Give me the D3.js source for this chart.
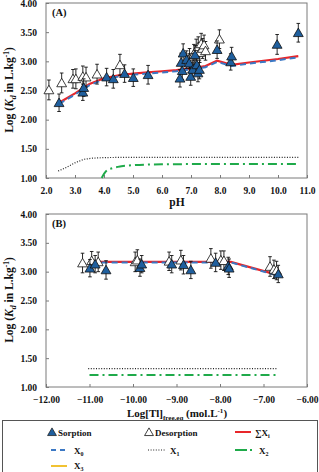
<!DOCTYPE html>
<html><head><meta charset="utf-8">
<script src="https://cdn.jsdelivr.net/npm/d3@7"></script>
<style>
html,body{margin:0;padding:0;background:#fff;}
svg{display:block;font-family:"Liberation Serif","Times New Roman",serif;font-weight:bold;}
</style></head>
<body><svg id="c" width="319" height="472"></svg>
<script>
// ---------- Panel A data (pH) ----------
const pHTicks = [2,3,4,5,6,7,8,9,10,11];
const logKdTicks = [1.0,1.5,2.0,2.5,3.0,3.5,4.0];
const sorpPH    = [2.45,3.27,3.30,4.09,4.32,4.71,5.01,5.52,6.62,6.66,6.70,6.73,6.85,6.94,6.99,7.06,7.14,7.20,7.24,7.29,7.90,8.37,8.40,9.97,10.70];
const sorpKdA   = [2.29,2.47,2.55,2.73,2.70,2.79,2.72,2.77,2.71,2.98,2.84,3.14,3.03,2.97,2.74,2.86,3.11,2.94,2.80,2.86,3.20,2.99,3.09,3.29,3.49];
const sorpErrA  = [0.15,0.14,0.15,0.15,0.16,0.15,0.15,0.16,0.15,0.16,0.15,0.16,0.15,0.16,0.15,0.16,0.16,0.15,0.15,0.16,0.15,0.14,0.15,0.17,0.16];
const desPH     = [2.10,2.54,2.93,3.03,3.27,3.38,3.76,4.55,6.95,7.10,7.18,7.25,7.30,7.35,7.40,7.45,7.50,7.98];
const desKdA    = [2.51,2.63,2.70,2.70,2.74,2.73,2.78,2.94,3.05,3.12,3.20,3.25,3.15,3.30,3.22,3.28,3.18,3.38];
const desErrA   = [0.17,0.17,0.16,0.17,0.18,0.17,0.17,0.18,0.17,0.17,0.18,0.17,0.17,0.18,0.17,0.17,0.16,0.16];
const modelPH   = [2.45,3.0,3.5,4.0,4.5,5.0,5.5,6.0,6.5,7.0,7.5,7.9,8.4,9.0,10.0,10.7];
const sumXA     = [2.29,2.45,2.61,2.71,2.76,2.79,2.81,2.83,2.85,2.88,2.92,3.01,2.94,2.98,3.04,3.09];
const x0A       = [2.27,2.43,2.59,2.69,2.74,2.77,2.79,2.81,2.83,2.86,2.90,2.99,2.92,2.96,3.02,3.07];
const x1PH      = [2.42,2.7,3.0,3.3,3.6,4.0,5.0,7.0,10.7];
const x1A       = [1.12,1.18,1.26,1.32,1.34,1.35,1.355,1.355,1.355];
const x2PH      = [3.92,4.0,4.1,4.3,4.6,5.0,6.0,8.0,10.7];
const x2A       = [1.0,1.07,1.13,1.17,1.20,1.22,1.235,1.24,1.24];

// ---------- Panel B data (Log[Tl]free,eq) ----------
const tlTicks   = [-12,-11,-10,-9,-8,-7,-6];
const sorpTl    = [-10.99,-10.87,-10.62,-9.84,-9.80,-9.11,-8.84,-8.67,-8.10,-7.81,-7.79,-6.66];
const sorpKdB   = [3.06,3.13,3.03,3.07,3.13,3.13,3.12,3.03,3.16,3.10,3.06,2.96];
const sorpErrB  = [0.15,0.15,0.16,0.15,0.15,0.15,0.16,0.15,0.16,0.15,0.16,0.15];
const desTl     = [-11.16,-10.95,-10.80,-9.95,-9.90,-9.17,-8.90,-8.21,-7.98,-7.91,-6.85,-6.76,-6.70];
const desKdB    = [3.15,3.19,3.17,3.17,3.20,3.18,3.20,3.23,3.20,3.19,3.09,3.04,3.02];
const desErrB   = [0.17,0.16,0.17,0.17,0.18,0.16,0.17,0.17,0.16,0.17,0.17,0.16,0.16];
const modelTl   = [-10.95,-9.0,-7.75,-6.66];
const sumXB     = [3.17,3.17,3.17,2.94];
const x0B       = [3.16,3.16,3.16,2.93];
const x1Tl      = [-11.03,-6.70];
const x1B       = [1.32,1.32];
const x2Tl      = [-11.0,-6.66];
const x2B       = [1.21,1.21];

const legendLabels = ["Sorption","Desorption","∑X","X","X","X","X"];

const C = {red:"#e8262a", blue:"#3b78c4", green:"#1faa4a", yellow:"#f1c232", tri:"#1f5f9e", frame:"#7a7a7a"};
const svg = d3.select("#c");

function panel(opt){
  const L=opt.left, R=opt.right, T=opt.top, B=opt.bottom;
  const x = d3.scaleLinear().domain(opt.xDomain).range([L,R]);
  const y = d3.scaleLinear().domain([1,4]).range([B,T]);
  const g = svg.append("g");
  const ya = g.append("g").attr("transform",`translate(${L},0)`)
    .call(d3.axisLeft(y).tickValues(logKdTicks).tickFormat(d3.format(".2f")).tickSizeInner(-3).tickSizeOuter(0).tickPadding(9));
  const xa = g.append("g").attr("transform",`translate(0,${B})`)
    .call(d3.axisBottom(x).tickValues(opt.xTicks).tickFormat(opt.xFmt).tickSizeInner(-3).tickSizeOuter(0).tickPadding(9));
  [ya,xa].forEach(a=>{
    a.select(".domain").remove();
    a.selectAll("line").attr("stroke",C.frame);
    a.selectAll("text").attr("font-family","Liberation Serif, serif").attr("font-weight","bold").attr("font-size",9.5).attr("fill","#111");
  });
  g.append("rect").attr("x",L).attr("y",T).attr("width",R-L).attr("height",B-T)
    .attr("fill","none").attr("stroke",C.frame).attr("stroke-width",1);
  g.append("text").attr("x",L+6).attr("y",T+13).attr("font-size",10.5).attr("fill","#111").text(opt.label);

  const line = (xs,ys)=>d3.line().x((d,i)=>x(xs[i])).y(d=>y(d))(ys);
  g.append("path").attr("d",line(opt.x1X,opt.x1Y)).attr("fill","none").attr("stroke","#222").attr("stroke-width",1.2).attr("stroke-dasharray","1,1.6");
  g.append("path").attr("d",d3.line().curve(d3.curveMonotoneX).x((d,i)=>x(opt.x2X[i])).y(d=>y(d))(opt.x2Y)).attr("fill","none").attr("stroke",C.green).attr("stroke-width",2).attr("stroke-dasharray","9,4,2,4");
  g.append("path").attr("d",line(opt.mX,opt.sum)).attr("fill","none").attr("stroke",C.red).attr("stroke-width",2.2);
  g.append("path").attr("d",line(opt.mX,opt.zero)).attr("fill","none").attr("stroke",C.blue).attr("stroke-width",2).attr("stroke-dasharray","6,4");

  const tri = d3.symbol().type(d3.symbolTriangle).size(42)();
  function points(xs,ys,es,fill){
    xs.forEach((xv,i)=>{
      const px=x(xv), t=y(ys[i]+es[i]), b=y(ys[i]-es[i]);
      const eg = g.append("g").attr("stroke","#111").attr("stroke-width",0.9);
      eg.append("line").attr("x1",px).attr("x2",px).attr("y1",t).attr("y2",b);
      eg.append("line").attr("x1",px-1.8).attr("x2",px+1.8).attr("y1",t).attr("y2",t);
      eg.append("line").attr("x1",px-1.8).attr("x2",px+1.8).attr("y1",b).attr("y2",b);
    });
    xs.forEach((xv,i)=>{
      g.append("path").attr("d",tri).attr("transform",`translate(${x(xv)},${y(ys[i])+1})`)
        .attr("fill",fill).attr("stroke","#111").attr("stroke-width",0.8);
    });
  }
  points(opt.dX,opt.dY,opt.dE,"#fff");
  points(opt.sX,opt.sY,opt.sE,C.tri);
  return g;
}

panel({left:46,right:307,top:3,bottom:178,xDomain:[2,11],xTicks:pHTicks,xFmt:d3.format(".1f"),label:"(A)",
  sX:sorpPH,sY:sorpKdA,sE:sorpErrA,dX:desPH,dY:desKdA,dE:desErrA,
  mX:modelPH,sum:sumXA,zero:x0A,x1X:x1PH,x1Y:x1A,x2X:x2PH,x2Y:x2A});
panel({left:46,right:307,top:214,bottom:387,xDomain:[-12,-6],xTicks:tlTicks,xFmt:d3.format(".2f"),label:"(B)",
  sX:sorpTl,sY:sorpKdB,sE:sorpErrB,dX:desTl,dY:desKdB,dE:desErrB,
  mX:modelTl,sum:sumXB,zero:x0B,x1X:x1Tl,x1Y:x1B,x2X:x2Tl,x2Y:x2B});

function yTitle(cy){
  const t = svg.append("text").attr("transform",`translate(13,${cy}) rotate(-90)`).attr("text-anchor","middle").attr("font-size",11.5).attr("fill","#111");
  t.append("tspan").text("Log (");
  t.append("tspan").attr("font-style","italic").text("K");
  t.append("tspan").attr("font-size",8).attr("dy",3).attr("font-style","italic").text("d");
  t.append("tspan").attr("dy",-3).text(" in L.kg");
  t.append("tspan").attr("font-size",7.5).attr("dy",-4).text("-1");
  t.append("tspan").attr("dy",4).text(")");
}
yTitle(90); yTitle(300);
svg.append("text").attr("x",177).attr("y",206).attr("text-anchor","middle").attr("font-size",11.5).attr("fill","#111").text("pH");
{
  const t = svg.append("text").attr("x",177).attr("y",417).attr("text-anchor","middle").attr("font-size",11).attr("fill","#111");
  t.append("tspan").text("Log[Tl]");
  t.append("tspan").attr("font-size",7).attr("dy",3).text("free,eq");
  t.append("tspan").attr("dy",-3).text(" (mol.L");
  t.append("tspan").attr("font-size",7).attr("dy",-4).text("-1");
  t.append("tspan").attr("dy",4).text(")");
}

const lg = svg.append("g");
lg.append("rect").attr("x",2.5).attr("y",420.5).attr("width",315).attr("height",60).attr("fill","#fff").attr("stroke","#555").attr("stroke-width",1);
const fs = 9;
function ltext(x,y,main,sub){
  const t = lg.append("text").attr("x",x).attr("y",y+3).attr("font-size",fs).attr("fill","#111");
  t.append("tspan").text(main);
  if(sub!==undefined) t.append("tspan").attr("font-size",6).attr("dy",2).text(sub);
}
const triL = d3.symbol().type(d3.symbolTriangle).size(34)();
lg.append("path").attr("d",triL).attr("transform","translate(52,433)").attr("fill",C.tri).attr("stroke","#111").attr("stroke-width",0.7);
ltext(58,433,legendLabels[0]);
lg.append("path").attr("d",triL).attr("transform","translate(149,433)").attr("fill","#fff").attr("stroke","#111").attr("stroke-width",0.8);
ltext(155,433,legendLabels[1]);
lg.append("line").attr("x1",235).attr("x2",251).attr("y1",432).attr("y2",432).attr("stroke",C.red).attr("stroke-width",2);
ltext(255,433,legendLabels[2],"i");
lg.append("line").attr("x1",51).attr("x2",68).attr("y1",450).attr("y2",450).attr("stroke",C.blue).attr("stroke-width",2).attr("stroke-dasharray","5,4");
ltext(74,451,legendLabels[3],"0");
lg.append("line").attr("x1",148).attr("x2",165).attr("y1",450).attr("y2",450).attr("stroke","#222").attr("stroke-width",1.2).attr("stroke-dasharray","1,1.6");
ltext(170,451,legendLabels[4],"1");
lg.append("line").attr("x1",235).attr("x2",254).attr("y1",450).attr("y2",450).attr("stroke",C.green).attr("stroke-width",2).attr("stroke-dasharray","12,3,2,10");
ltext(259,451,legendLabels[5],"2");
lg.append("line").attr("x1",51).attr("x2",67).attr("y1",466).attr("y2",466).attr("stroke",C.yellow).attr("stroke-width",2);
ltext(74,465.5,legendLabels[6],"3");
</script></body></html>
